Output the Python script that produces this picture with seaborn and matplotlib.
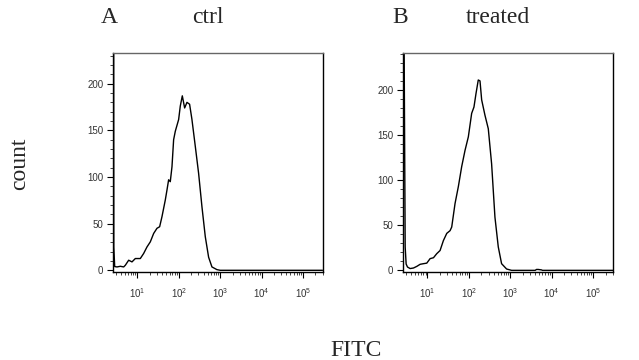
import numpy as np
import pandas as pd
import matplotlib
matplotlib.use("Agg")
import matplotlib.pyplot as plt
import matplotlib.ticker as mticker
import seaborn as sns

# ==================================================
# Settings
# ==================================================
sns.set_style("ticks")
plt.rcParams["font.family"] = ["Liberation Sans", "DejaVu Sans"]
plt.rcParams["mathtext.fontset"] = "custom"
plt.rcParams["mathtext.rm"] = "Liberation Sans"
plt.rcParams["mathtext.it"] = "Liberation Sans"

# ==================================================
# Data
# ==================================================
ctrl_fitc = [2.68, 2.70, 2.84, 3.23, 3.89, 4.68, 5.13, 6.18, 7.43, 8.95, 11.8, 14.2,
             17.1, 20.6, 24.8, 29.8, 34.6, 39.4, 47.4, 52.0, 57.0, 62.5, 68.7, 75.3,
             82.6, 99.5, 109, 122, 139, 158, 183, 208, 251, 302, 364, 438, 527, 634,
             837, 1007, 3000, 30000, 297000]
ctrl_count = [300, 25, 4, 3.6, 4.3, 3.6, 5.4, 10.8, 9, 12.6, 12.6, 18,
              25, 30.5, 39.5, 45, 46.7, 57.5, 75.4, 86, 97, 95, 111, 140,
              149, 161.6, 176, 187, 174, 180, 178, 162, 133, 104, 68, 36, 14, 3.6,
              0.7, 0, 0, 0, 0]

treated_fitc = [2.70, 2.90, 3.06, 3.30, 3.82, 4.60, 5.53, 6.66, 8.01, 9.64, 11.6,
                14.0, 16.8, 20.2, 24.3, 29.3, 35.2, 38.6, 46.4, 55.9, 67.2, 80.9,
                97.3, 117, 133, 149, 169, 186, 204, 245, 295, 355, 427, 514, 618,
                816, 1077, 4000, 4315, 4730, 5690, 6000, 300000]
treated_count = [300, 26, 7, 3.7, 2, 2.6, 4.4, 6.7, 7.4, 8, 13,
                 14, 18.5, 22, 33, 41, 44, 48, 74, 93, 115, 133,
                 148, 174, 181, 196, 211, 210, 189, 172, 157, 118, 59, 26, 7.4,
                 1.5, 0, 0, 1, 1, 0.5, 0, 0]

letters = ["A", "B"]
names = ["ctrl", "treated"]

# ==================================================
# Figure
# ==================================================
fig = plt.figure(figsize=(6.39, 3.6), dpi=100)

panels = [(ctrl_fitc, ctrl_count, 233, 0.177, 0.171, 0.325),
          (treated_fitc, treated_count, 241, 0.631, 0.627, 0.780)]

for (xs, ys, ytop, left, lx, nx), letter, name in zip(panels, letters, names):
    ax = fig.add_axes([left, 0.244, 0.328, 0.609])
    df = pd.DataFrame({"FITC": xs, "count": ys})
    sns.lineplot(data=df, x="FITC", y="count", ax=ax, color="black",
                 linewidth=1.0, sort=False, estimator=None)
    ax.set_xscale("log")
    ax.set_xlim(2.6, 3.0e5)
    ax.set_ylim(-2, ytop)
    ax.set_xlabel("")
    ax.set_ylabel("")

    ax.set_xticks([1e1, 1e2, 1e3, 1e4, 1e5])
    ax.xaxis.set_minor_locator(mticker.LogLocator(base=10, subs=np.arange(2, 10)))
    ax.xaxis.set_minor_formatter(mticker.NullFormatter())
    ax.set_yticks([0, 50, 100, 150, 200])
    ax.yaxis.set_minor_locator(mticker.AutoMinorLocator(5))

    ax.tick_params(axis="both", which="major", labelsize=7, length=4,
                   width=0.8, colors="black", labelcolor="#333333")
    ax.tick_params(axis="x", which="major", pad=6)
    ax.tick_params(axis="y", which="major", pad=3)
    ax.tick_params(axis="both", which="minor", length=2.5, width=0.6)
    for sp in ax.spines.values():
        sp.set_visible(True)
        sp.set_linewidth(1.0)
        sp.set_color("black")
    ax.spines["top"].set_color("#666666")

    fig.text(lx, 0.936, letter, family="Liberation Serif", fontsize=17,
             ha="center", va="baseline")
    fig.text(nx, 0.936, name, family="Liberation Serif", fontsize=17,
             ha="center", va="baseline")

fig.text(0.030, 0.544, "count", family="Liberation Serif", fontsize=17,
         rotation=90, ha="center", va="center")
fig.text(0.557, 0.010, "FITC", family="Liberation Serif", fontsize=17,
         ha="center", va="baseline")

plt.savefig("out.png", dpi=100)
